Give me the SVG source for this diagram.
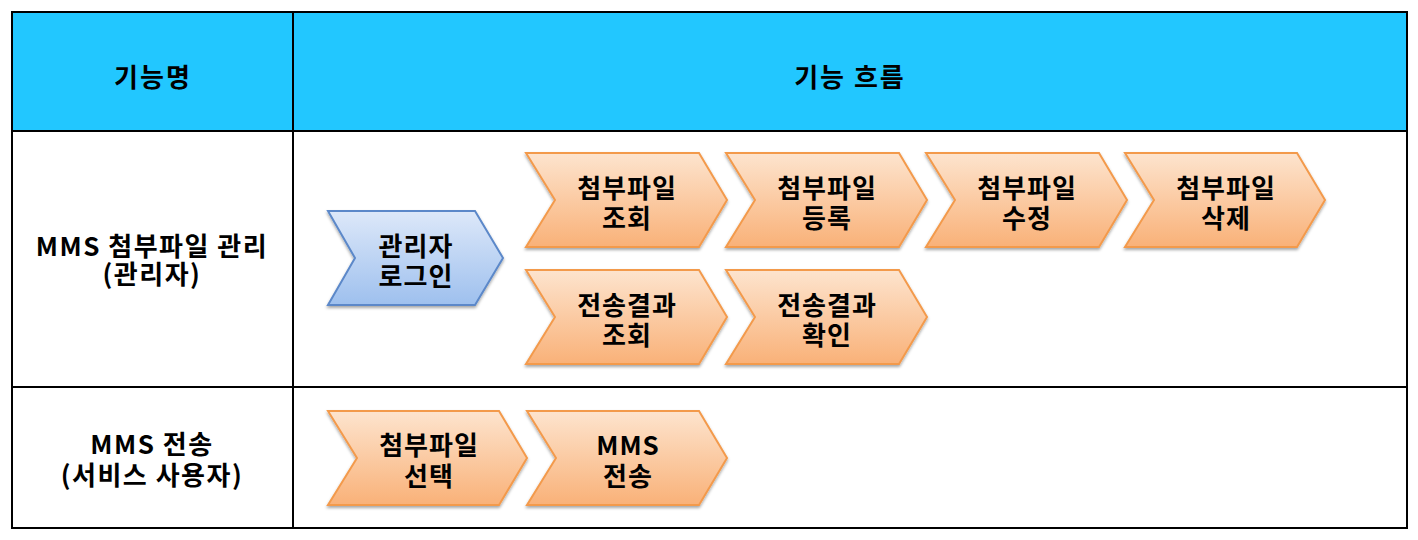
<svg xmlns="http://www.w3.org/2000/svg" width="1418" height="540" viewBox="0 0 1418 540">
<defs>
<linearGradient id="og" x1="0" y1="0" x2="0" y2="1">
<stop offset="0" stop-color="#fde4ce"/>
<stop offset="1" stop-color="#f9b178"/>
</linearGradient>
<linearGradient id="bg" x1="0" y1="0" x2="0" y2="1">
<stop offset="0" stop-color="#dde8f9"/>
<stop offset="1" stop-color="#9ec0ee"/>
</linearGradient>
<filter id="sh" x="-10%" y="-10%" width="120%" height="130%">
<feDropShadow dx="0" dy="2" stdDeviation="1.5" flood-color="#000" flood-opacity="0.35"/>
</filter>
</defs>
<style>
.t{font-family:"Noto Sans CJK KR","Malgun Gothic",sans-serif;font-weight:bold;font-size:26px;fill:#000;text-anchor:middle;letter-spacing:1px}
.l{letter-spacing:1.5px}
.h{letter-spacing:2px}
.o{fill:url(#og);stroke:#f39a4c;stroke-width:2;filter:url(#sh)}
.b{fill:url(#bg);stroke:#5b88c9;stroke-width:2;filter:url(#sh)}
.ln{stroke:#000;stroke-width:2;fill:none}
</style>
<rect width="1418" height="540" fill="#fff"/>
<g id="table">
<rect x="12" y="12" width="1395" height="119" fill="#22c7ff"/>
<rect class="ln" x="12" y="12" width="1395" height="516"/>
<line class="ln" x1="12" y1="131" x2="1407" y2="131"/>
<line class="ln" x1="12" y1="387" x2="1407" y2="387"/>
<line class="ln" x1="293" y1="12" x2="293" y2="528"/>
<text class="t h" x="153" y="87">기능명</text>
<text class="t h" x="850" y="87">기능 흐름</text>
<text class="t l" x="152"><tspan x="152" y="256">MMS 첨부파일 관리</tspan><tspan x="152" y="284">(관리자)</tspan></text>
<text class="t l" x="152"><tspan x="152" y="454">MMS 전송</tspan><tspan x="152" y="485">(서비스 사용자)</tspan></text>
</g>
<g id="n-login">
<path class="b" d="M328,211 L475,211 L503,258 L475,305 L328,305 L355,258 Z"/>
<text class="t"><tspan x="416" y="256">관리자</tspan><tspan x="416" y="286">로그인</tspan></text>
</g>
<g id="n-view">
<path class="o" d="M526,153 L699,153 L727,200 L699,247 L526,247 L555,200 Z"/>
<text class="t"><tspan x="627" y="198">첨부파일</tspan><tspan x="627" y="228">조회</tspan></text>
</g>
<g id="n-reg">
<path class="o" d="M726,153 L899,153 L927,200 L899,247 L726,247 L755,200 Z"/>
<text class="t"><tspan x="827" y="198">첨부파일</tspan><tspan x="827" y="228">등록</tspan></text>
</g>
<g id="n-edit">
<path class="o" d="M926,153 L1099,153 L1127,200 L1099,247 L926,247 L955,200 Z"/>
<text class="t"><tspan x="1027" y="198">첨부파일</tspan><tspan x="1027" y="228">수정</tspan></text>
</g>
<g id="n-del">
<path class="o" d="M1125,153 L1297,153 L1325,200 L1297,247 L1125,247 L1154,200 Z"/>
<text class="t"><tspan x="1226" y="198">첨부파일</tspan><tspan x="1226" y="228">삭제</tspan></text>
</g>
<g id="n-result">
<path class="o" d="M526,270 L699,270 L727,317 L699,364 L526,364 L555,317 Z"/>
<text class="t"><tspan x="627" y="315">전송결과</tspan><tspan x="627" y="345">조회</tspan></text>
</g>
<g id="n-confirm">
<path class="o" d="M726,270 L899,270 L927,317 L899,364 L726,364 L755,317 Z"/>
<text class="t"><tspan x="827" y="315">전송결과</tspan><tspan x="827" y="345">확인</tspan></text>
</g>
<g id="n-select">
<path class="o" d="M328,411 L499,411 L527,458 L499,505 L328,505 L357,458 Z"/>
<text class="t"><tspan x="429" y="455">첨부파일</tspan><tspan x="429" y="486">선택</tspan></text>
</g>
<g id="n-send">
<path class="o" d="M527,411 L699,411 L727,458 L699,505 L527,505 L556,458 Z"/>
<text class="t"><tspan x="628" y="455">MMS</tspan><tspan x="628" y="486">전송</tspan></text>
</g>
<g id="connectors"></g>
</svg>
